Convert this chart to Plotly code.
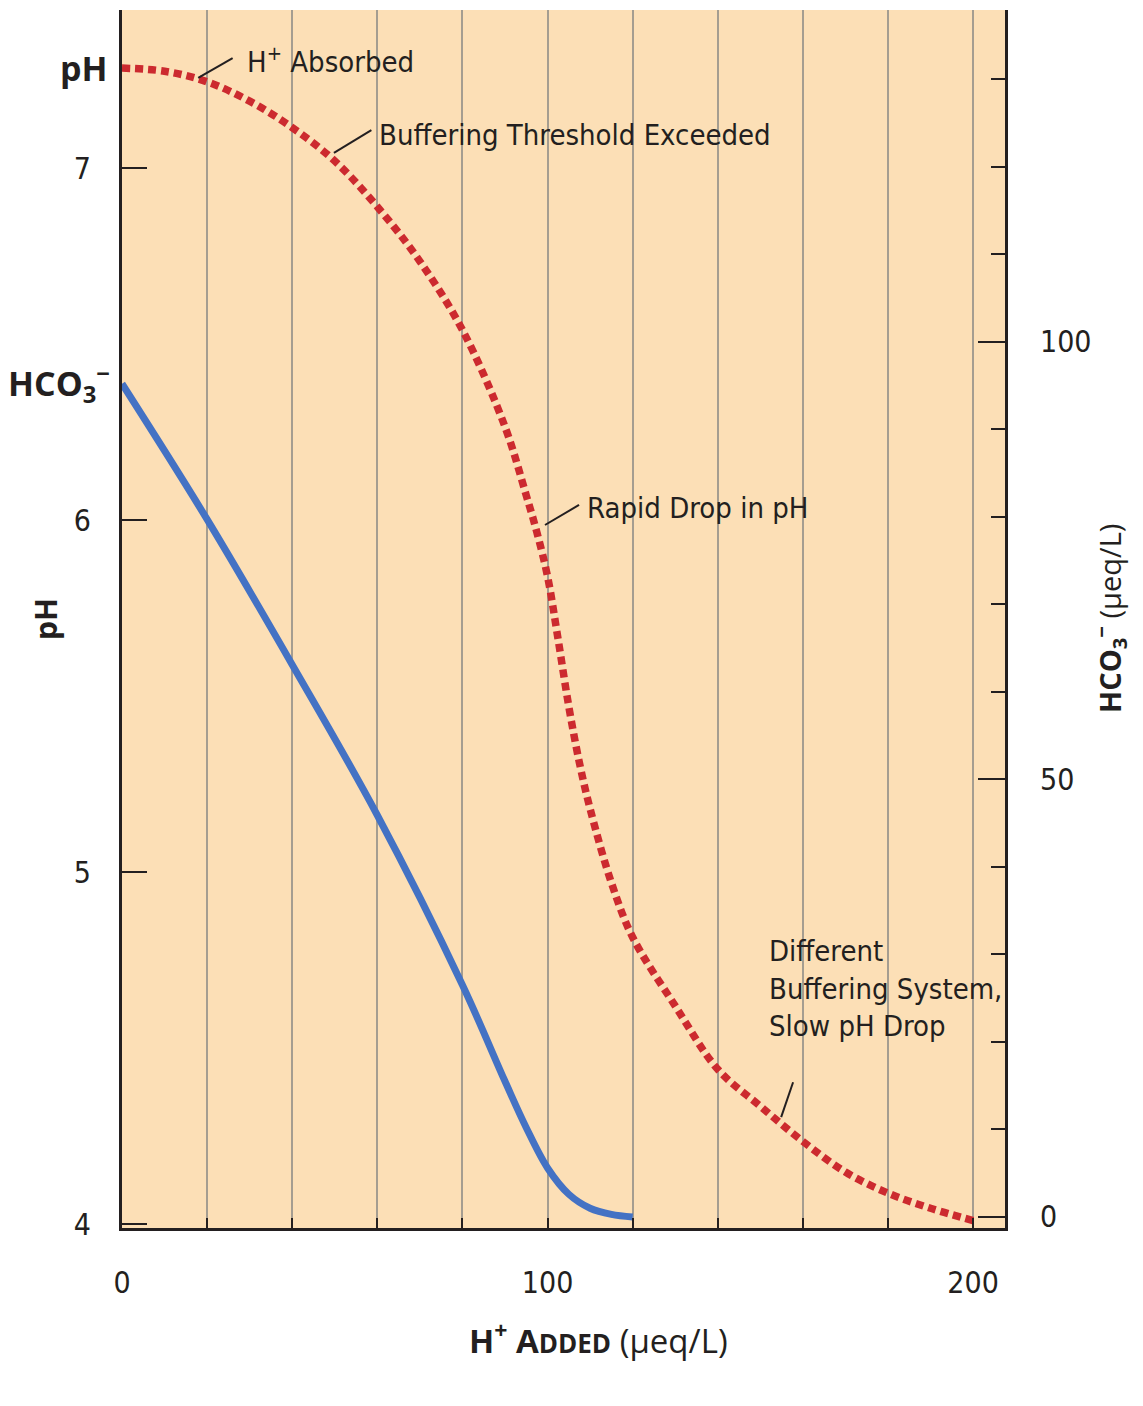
import plotly.graph_objects as go

# H+ added (ueq/L) vs pH (red dotted)
ph_x = [0, 10, 20, 30, 40, 50, 60, 70, 80, 90, 95, 97.5, 100, 102.5, 105, 107.5,
        110, 115, 120, 130, 140, 150, 160, 170, 180, 190, 200]
ph_y = [7.284, 7.275, 7.245, 7.19, 7.115, 7.02, 6.89, 6.735, 6.54, 6.265, 6.07,
        5.965, 5.84, 5.66, 5.47, 5.31, 5.18, 4.97, 4.815, 4.62, 4.44, 4.335,
        4.235, 4.148, 4.088, 4.045, 4.01]

# H+ added vs HCO3- (ueq/L) (blue, right axis)
hco3_x = [0, 20, 40, 60, 80, 90, 95, 100, 105, 110, 115, 120]
hco3_y = [95.2, 79.7, 63.1, 45.9, 26.5, 15.5, 10.2, 5.6, 2.6, 1.0, 0.3, 0]

x_ticks = [0, 100, 200]
ph_ticks = [4, 5, 6, 7]
hco3_ticks = [0, 50, 100]

FONT = "DejaVu Sans Condensed, DejaVu Sans, sans-serif"
BOLD = "Open Sans, DejaVu Sans, sans-serif"
INK = "#231f20"
GRID = "#a59d90"

fig = go.Figure()
fig.add_trace(go.Scatter(
    x=hco3_x, y=hco3_y, yaxis="y2", mode="lines",
    line=dict(color="#4472c4", width=7, shape="spline"),
    hoverinfo="skip",
))
fig.add_trace(go.Scatter(
    x=ph_x, y=ph_y, mode="lines",
    line=dict(color="#cc2a2f", width=7.5, dash="8px,5px", shape="spline"),
    hoverinfo="skip",
))

# leader lines for the call-outs
leaders = [
    (17.9, 7.256, 26.0, 7.3125),
    (49.8, 7.043, 58.6, 7.108),
    (99.4, 5.986, 107.4, 6.043),
    (154.9, 4.304, 157.7, 4.403),
]
for x0, y0, x1, y1 in leaders:
    fig.add_shape(type="line", xref="x", yref="y", x0=x0, y0=y0, x1=x1, y1=y1,
                  line=dict(color=INK, width=2))

callouts = [
    (29.0, 7.307, "H<sup>+</sup> Absorbed", "middle"),
    (60.0, 7.094, "Buffering Threshold Exceeded", "middle"),
    (108.9, 6.034, "Rapid Drop in pH", "middle"),
    (151.6, 4.83, "Different<br>Buffering System,<br>Slow pH Drop", "top"),
]
for x, y, text, ya in callouts:
    fig.add_annotation(x=x, y=y, xref="x", yref="y", text=text, showarrow=False,
                       xanchor="left", yanchor=ya, align="left",
                       font=dict(family=FONT, size=29, color=INK))

# bold left-side labels
fig.add_annotation(x=0, y=ph_y[0], xref="paper", yref="y", text="<b>pH</b>",
                   showarrow=False, xanchor="right", xshift=-12,
                   font=dict(family=BOLD, size=34, color=INK))
fig.add_annotation(x=0, y=hco3_y[0], xref="paper", yref="y2",
                   text="<b>HCO<sub>3</sub><sup>−</sup></b>",
                   showarrow=False, xanchor="right", xshift=-10,
                   font=dict(family=BOLD, size=34, color=INK))

# axis titles
fig.add_annotation(x=0, y=0.5, xref="paper", yref="paper", text="<b>pH</b>",
                   showarrow=False, xanchor="center", yanchor="middle",
                   xshift=-77, textangle=-90,
                   font=dict(family=BOLD, size=30, color=INK))
fig.add_annotation(x=1, y=0.5, xref="paper", yref="paper",
                   text="<b>HCO<sub>3</sub><sup>−</sup></b> (µeq/L)",
                   showarrow=False, xanchor="center", yanchor="middle",
                   xshift=105, textangle=-90,
                   font=dict(family=BOLD, size=29, color=INK))
fig.add_annotation(x=0.54, y=0, xref="paper", yref="paper",
                   text="<b>H<sup>+</sup> A<span style='font-size:26px'>DDED</span></b> (µeq/L)",
                   showarrow=False, xanchor="center", yanchor="middle",
                   yshift=-110,
                   font=dict(family=BOLD, size=33, color=INK))

fig.update_layout(
    width=1143, height=1406,
    margin=dict(l=114, r=146, t=2, b=186),
    paper_bgcolor="white",
    plot_bgcolor="#fcdfb6",
    showlegend=False,
    font=dict(family=FONT, size=30, color=INK),
    xaxis=dict(
        range=[0, 207.5], tickvals=x_ticks, ticks="inside", ticklen=10,
        tickwidth=2, tickcolor=INK, showgrid=True, gridcolor=GRID, gridwidth=1.5,
        minor=dict(dtick=20, tick0=0, ticks="inside", ticklen=10, tickwidth=2,
                   tickcolor=INK, showgrid=True, gridcolor=GRID, gridwidth=1.5),
        showline=True, linecolor=INK, linewidth=3, zeroline=False,
        ticklabelstandoff=26,
    ),
    yaxis=dict(
        range=[3.989, 7.449], tickvals=ph_ticks, ticks="inside", ticklen=25,
        tickwidth=2, tickcolor=INK, showgrid=False, zeroline=False,
        showline=True, linecolor=INK, linewidth=3, ticklabelstandoff=22,
    ),
    yaxis2=dict(
        range=[-1.26, 137.9], tickvals=hco3_ticks, ticks="inside", ticklen=27,
        tickwidth=2, tickcolor=INK, overlaying="y", side="right",
        anchor="x", showgrid=False, zeroline=False,
        minor=dict(dtick=10, tick0=0, ticks="inside", ticklen=14, tickwidth=2,
                   tickcolor=INK),
        showline=True, linecolor=INK, linewidth=3, ticklabelstandoff=26,
    ),
)

fig.write_html("out.html")
